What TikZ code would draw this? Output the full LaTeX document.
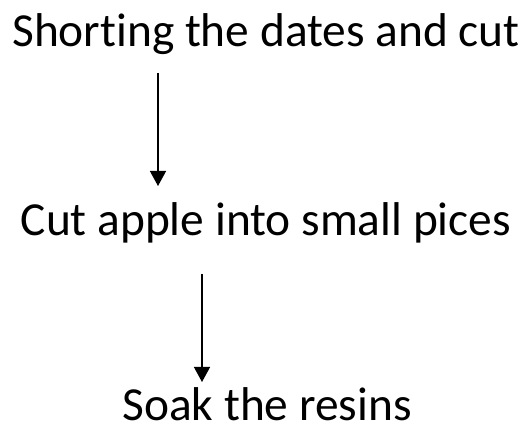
\documentclass[tikz,border=0pt]{standalone}
\usepackage{fontspec}
\setmainfont{Carlito}[Ligatures=NoCommon]
\usetikzlibrary{arrows.meta}
\begin{document}
\begin{tikzpicture}[x=1pt,y=1pt,
  steplabel/.style={font=\fontsize{47.4}{50}\selectfont, inner sep=0pt, anchor=base},
  arr/.style={line width=1.3pt, -{Triangle[length=15pt,width=16pt]}}]
\useasboundingbox (0,0) rectangle (528,426);
\node[steplabel] (t1) at (266,426-47) {Shorting the dates and cut};
\node[steplabel] (t2) at (266,426-236) {Cut apple into small pices};
\node[steplabel] (t3) at (267,426-421) {Soak the resins};
\coordinate (a1s) at (158,426-73);
\coordinate (a1e) at (158,426-186);
\coordinate (a2s) at (202,426-274);
\coordinate (a2e) at (202,426-382);
\draw[arr] (a1s) -- (a1e);
\draw[arr] (a2s) -- (a2e);
\end{tikzpicture}
\end{document}
